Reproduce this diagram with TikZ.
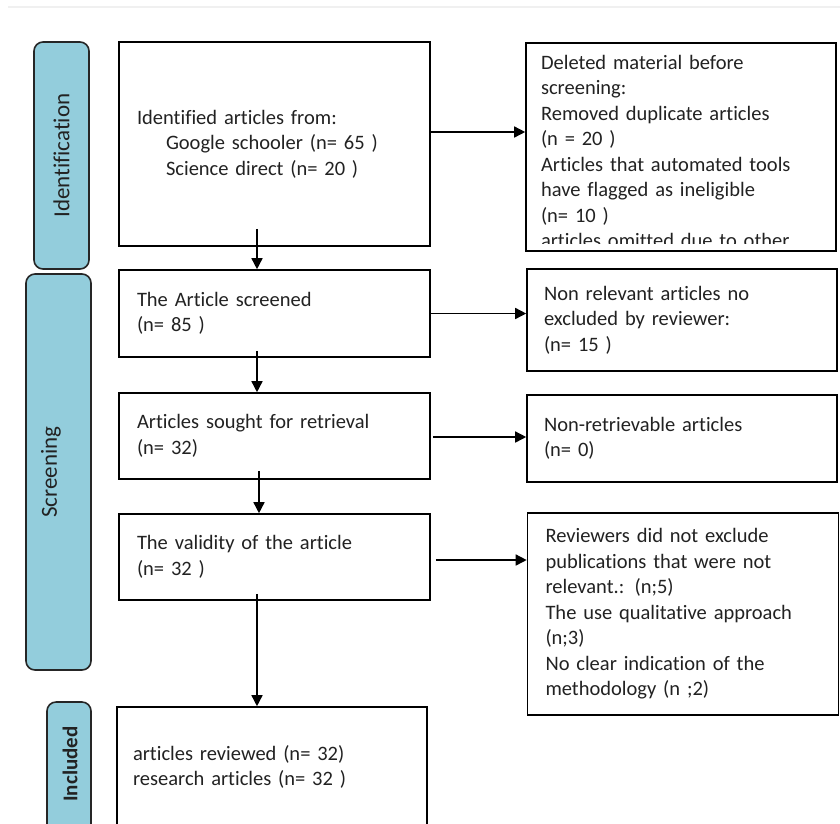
\documentclass[tikz,border=0pt]{standalone}
\usepackage{fontspec}
\setmainfont{Carlito}[Ligatures=NoCommon]
\usetikzlibrary{arrows.meta}
\definecolor{barblue}{HTML}{93CDDC}
\definecolor{inkgray}{HTML}{222222}

\tikzset{
  stagebar/.style={draw=black!85, line width=1.6pt, fill=barblue, rounded corners=9pt,
    rotate=90, inner sep=0pt, text=inkgray, font=\fontsize{23}{27}\selectfont},
  stagetext/.style={rotate=90, inner sep=0pt, text=inkgray, font=\fontsize{23}{27}\selectfont},
  flowbox/.style={draw, line width=1.6pt, inner xsep=18pt, inner ysep=0pt, text width=275pt,
    align=left, text=inkgray, font=\fontsize{20.5}{25.5}\selectfont},
}

\begin{document}
\begin{tikzpicture}[x=1pt, y=-1pt, >={Triangle[length=11pt,width=11pt]}, line width=1.5pt]
    \clip (0,0) rectangle (840,823);
    \fill[white] (0,0) rectangle (840,823);
    \draw[black!6, line width=1.2pt] (8,7) -- (840,7);
    % stage bars
    \node[stagebar, minimum width=227pt, minimum height=55pt] (ident) at (61.5,155.5) {Identification};
    \node[stagebar, minimum width=396pt, minimum height=65pt] (screen) at (58.5,472) {};
    \node[stagetext] (screentxt) at (51,472) {Screening};
    \node[stagebar, minimum width=140pt, minimum height=44pt] (incl) at (69,772) {};
    \node[stagetext, font=\fontsize{21}{25}\selectfont\bfseries] (incltxt) at (70,764) {Included};
    % main column
    \node[flowbox, minimum height=204pt] (found) at (274.5,144) {Identified articles from:\\
      \hspace*{29pt}Google schooler (n= 65 )\\
      \hspace*{29pt}Science direct (n= 20 )};
    \node[flowbox, minimum height=87pt] (screened) at (274.5,313.5) {The Article screened\\(n= 85 )};
    \node[flowbox, minimum height=86pt] (sought) at (274.5,436) {Articles sought for retrieval\\(n= 32)};
    \node[flowbox, minimum height=86pt] (valid) at (274.5,557) {The validity of the article\\(n= 32 )};
    \node[flowbox, minimum height=120pt, inner xsep=16pt, text width=278pt] (reviewed) at (272,767) {articles reviewed (n= 32)\\research articles (n= 32 )};
    % right column
    \node[flowbox, inner xsep=15pt, text width=280pt, minimum height=208pt] (removed) at (681,147) {};
    \begin{scope}
      \clip (removed.north west) rectangle ([yshift=8pt]removed.south east);
      \node[flowbox, draw=none, anchor=north west, inner sep=0pt, text width=280pt] (removedtxt)
        at ([xshift=15pt,yshift=-12pt]removed.north west) {Deleted material before\\screening:\\
        Removed duplicate articles\\(n = 20 )\\Articles that automated tools\\
        have flagged as ineligible\\(n= 10 )\\articles omitted due to other};
    \end{scope}
    \node[flowbox, inner xsep=17pt, text width=276pt, minimum height=102pt] (norel) at (682,320) {Non relevant articles no\\excluded by reviewer:\\(n= 15 )};
    \node[flowbox, inner xsep=17pt, text width=276pt, minimum height=87pt] (noret) at (682,438.5) {Non-retrievable articles\\(n= 0)};
    \node[flowbox, minimum height=202pt] (excl) at (683,614) {Reviewers did not exclude\\
      publications that were not\\relevant.: (n;5)\\The use qualitative approach\\(n;3)\\
      No clear indication of the\\methodology (n ;2)};
    % arrows down
    \draw[->] ([xshift=-17.5pt,yshift=18pt]found.south) -- ([xshift=-17.5pt]screened.north);
    \draw[->] ([xshift=-17.5pt,yshift=7pt]screened.south) -- ([xshift=-17.5pt]sought.north);
    \draw[->] ([xshift=-15.5pt,yshift=9pt]sought.south) -- ([xshift=-15.5pt]valid.north);
    \draw[->] ([xshift=-17.5pt,yshift=7pt]valid.south) -- ([xshift=-15pt]reviewed.north);
    % arrows right
    \draw[->] ([yshift=12pt]found.east) -- ([yshift=12pt]found.east -| removed.west);
    \draw[->] (screened.east) -- (screened.east -| norel.west);
    \draw[->] ([xshift=2pt,yshift=-1pt]sought.east) -- ([yshift=-1pt]sought.east -| noret.west);
    \draw[->] ([xshift=5pt,yshift=-3pt]valid.east) -- ([yshift=-3pt]valid.east -| excl.west);
\end{tikzpicture}
\end{document}
